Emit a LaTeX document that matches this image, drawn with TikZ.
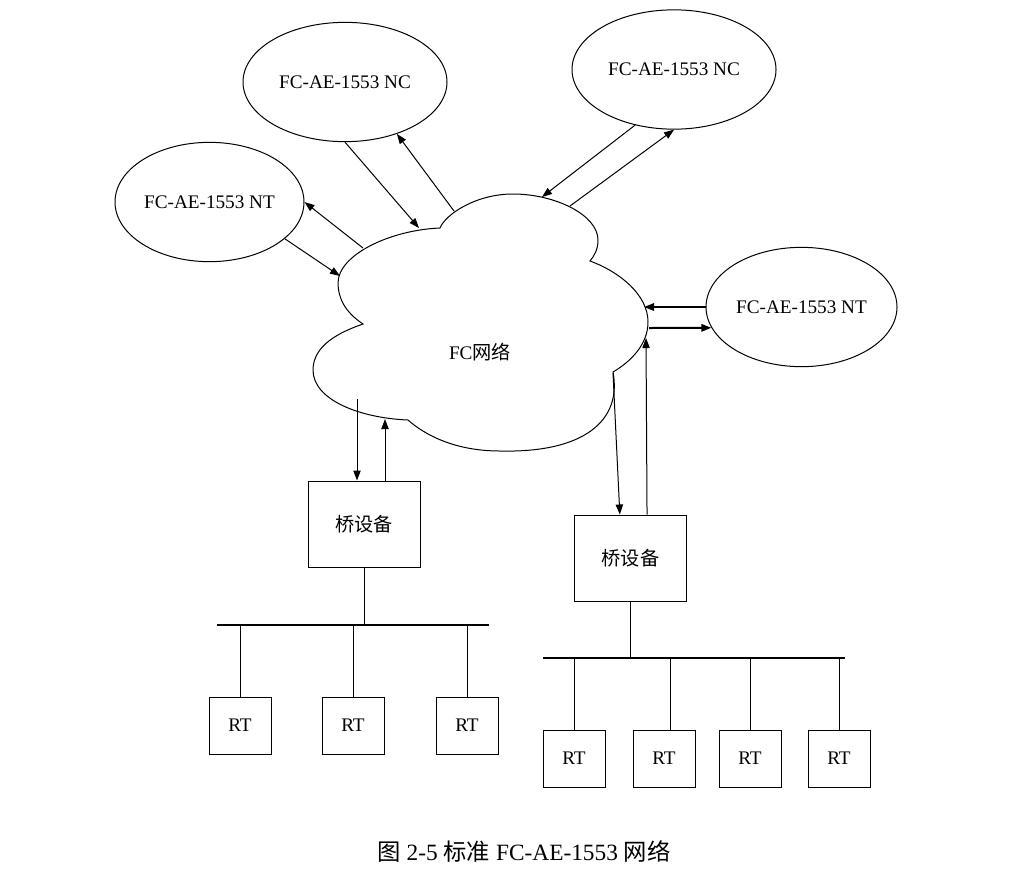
\documentclass[tikz,border=0pt]{standalone}
\usepackage{fontspec}
\setmainfont{Liberation Serif}
\newfontfamily\cjk{Noto Sans CJK SC}
\usetikzlibrary{shapes.geometric,arrows.meta}

\begin{document}
\begin{tikzpicture}[x=0.75pt,y=-0.75pt,line width=0.75pt,
    >={Triangle[length=7.5pt,width=5.5pt]},
    every node/.style={font=\fontsize{14.4}{17}\selectfont},
    term/.style={draw,ellipse,inner sep=0pt,minimum height=89.5pt},
    bridge/.style={draw,rectangle,minimum width=84pt,minimum height=64.5pt},
    rt/.style={draw,rectangle,minimum width=46.5pt,minimum height=42.75pt},
    bus/.style={line width=1.5pt}]
  \useasboundingbox (0,0) rectangle (1034,890);
  \node[term,minimum width=153pt] (nc1) at (345,82) {FC-AE-1553 NC};
  \node[term,minimum width=153pt] (nc2) at (674,69.5) {FC-AE-1553 NC};
  \node[term,minimum width=141.75pt] (nt1) at (209.5,202) {FC-AE-1553 NT};
  \node[term,minimum width=143.25pt] (nt2) at (801.5,307) {FC-AE-1553 NT};
  \draw (363,324) .. controls (345,312) and (338,298) .. (338,283)
    .. controls (338,255) and (390,230) .. (440,228)
    .. controls (445,215) and (475,194) .. (513,194)
    .. controls (555,194) and (598,215) .. (598,240)
    .. controls (598,250) and (594,256) .. (590,261)
    .. controls (620,272) and (648,295) .. (648,322)
    .. controls (648,345) and (630,362) .. (613,372)
    .. controls (622,420) and (585,453) .. (500,451)
    .. controls (455,451) and (425,435) .. (408,420)
    .. controls (360,418) and (313,400) .. (313,370)
    .. controls (313,345) and (340,332) .. cycle;
  \node (net) at (480,352) {FC{\cjk 网络}};
  \coordinate (c1) at (363,248);
  \coordinate (c2) at (340,276);
  \coordinate (c3) at (419,228);
  \coordinate (c4) at (454,211);
  \coordinate (c5) at (542,197);
  \coordinate (c6) at (570,206);
  \coordinate (c7) at (644,307);
  \coordinate (c8) at (649,328);
  \coordinate (c9) at (646,338);
  \coordinate (c10) at (613,373);
  \coordinate (c11) at (357,399);
  \coordinate (c12) at (385,419);
  \draw[->] (c1) -- (nt1.east);
  \draw[->] (nt1.-26) -- (c2);
  \draw[->] (nc1.south) -- (c3);
  \draw[->] (c4) -- (nc1.-45);
  \draw[->] (nc2.-125) -- (c5);
  \draw[->] (c6) -- (nc2.south);
  \draw[->,line width=1.5pt] (nt2.west) -- (c7);
  \draw[->,line width=1.5pt] (c8) -- (nt2.-167);
  \node[bridge] (br1) at (364,524) {\cjk 桥设备};
  \node[bridge] (br2) at (630.5,558) {\cjk 桥设备};
  \draw[->] (c11) -- (c11 |- br1.north);
  \draw[->] (c12 |- br1.north) -- (c12);
  \draw[->] (c10) -- ([xshift=-8pt]br2.north);
  \draw[->] ([xshift=12.4pt]br2.north) -- (c9);
  \node[rt] (r1) at (240,725.5) {RT};
  \node[rt] (r2) at (353,725.5) {RT};
  \node[rt] (r3) at (467,725.5) {RT};
  \node[rt] (r4) at (574,758.5) {RT};
  \node[rt] (r5) at (664,758.5) {RT};
  \node[rt] (r6) at (750,758.5) {RT};
  \node[rt] (r7) at (839,758.5) {RT};
  \coordinate (bl1) at (217,625);
  \coordinate (bl2) at (489,625);
  \coordinate (bl3) at (543,657.5);
  \coordinate (bl4) at (845,657.5);
  \draw[bus] (bl1) -- (bl2);
  \draw[bus] (bl3) -- (bl4);
  \draw (br1.south) -- (br1.south |- bl1);
  \draw (r1.north) -- (r1.north |- bl1);
  \draw (r2.north) -- (r2.north |- bl1);
  \draw (r3.north) -- (r3.north |- bl1);
  \draw (br2.south) -- (br2.south |- bl3);
  \draw (r4.north) -- (r4.north |- bl3);
  \draw ([xshift=4.5pt]r5.north) -- ([xshift=4.5pt]r5.north |- bl3);
  \draw (r6.north) -- (r6.north |- bl3);
  \draw (r7.north) -- (r7.north |- bl3);
  \node[font=\fontsize{17.5}{21}\selectfont] (cap) at (524,851) {{\cjk 图} 2-5 {\cjk 标准} FC-AE-1553 {\cjk 网络}};
\end{tikzpicture}
\end{document}
